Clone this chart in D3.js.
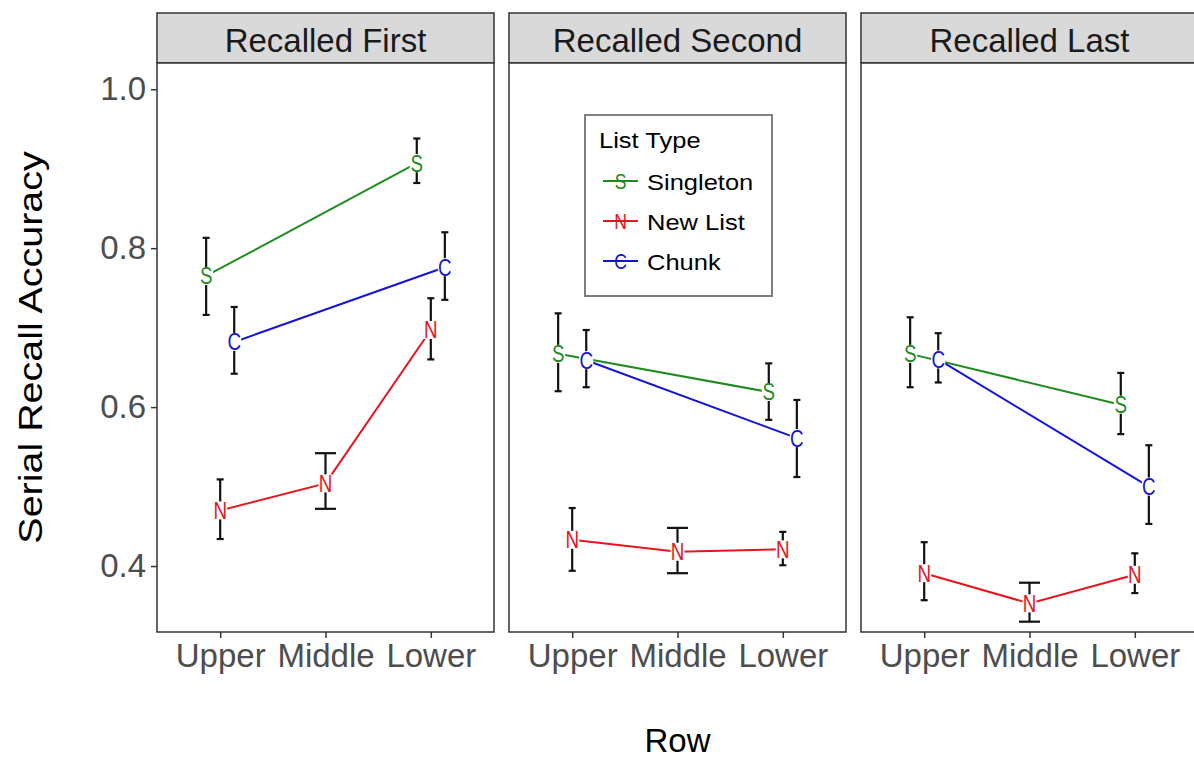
<!DOCTYPE html>
<html>
<head>
<meta charset="utf-8">
<script src="https://cdn.jsdelivr.net/npm/d3@7"></script>
<style>
  html, body { margin: 0; padding: 0; background: #fff; }
  svg { display: block; font-family: "Liberation Sans", Arial, sans-serif; }
</style>
</head>
<body>
<svg id="chart" width="1194" height="760"></svg>
<script>
// ---------- data ----------
const facets = ["Recalled First", "Recalled Second", "Recalled Last"];
const rows = ["Upper", "Middle", "Lower"];
const seriesNames = ["Singleton", "New List", "Chunk"];
const seriesLetters = ["S", "N", "C"];
const seriesColors = ["#1f8c1f", "#e8141c", "#1414d8"];
const yTicks = [0.4, 0.6, 0.8, 1.0];

// means per facet (rows: Upper, Middle, Lower); null = not present
const singletonMean  = [[0.765, null, 0.907], [0.667, null, 0.619], [0.667, null, 0.603]];
const singletonLower = [[0.716, null, 0.882], [0.620, null, 0.584], [0.625, null, 0.566]];
const singletonUpper = [[0.813, null, 0.938], [0.718, null, 0.655], [0.713, null, 0.643]];

const newListMean  = [[0.470, 0.504, 0.697], [0.433, 0.418, 0.421], [0.391, 0.353, 0.389]];
const newListLower = [[0.434, 0.472, 0.660], [0.394, 0.391, 0.401], [0.357, 0.330, 0.366]];
const newListUpper = [[0.509, 0.542, 0.737], [0.473, 0.448, 0.443], [0.430, 0.379, 0.416]];

const chunkMean  = [[0.682, null, 0.776], [0.659, null, 0.561], [0.660, null, 0.500]];
const chunkLower = [[0.642, null, 0.735], [0.625, null, 0.512], [0.631, null, 0.453]];
const chunkUpper = [[0.726, null, 0.820], [0.697, null, 0.609], [0.693, null, 0.552]];

const means = [singletonMean, newListMean, chunkMean];
const lowers = [singletonLower, newListLower, chunkLower];
const uppers = [singletonUpper, newListUpper, chunkUpper];

// ---------- layout ----------
const svg = d3.select("#chart");
const plotLeft = 157, panelW = 337, gap = 15;
const stripTop = 13, stripH = 50;
const panelTop = stripTop + stripH, panelBottom = 632;
const fontFam = '"Liberation Sans", Arial, sans-serif';

const facetX = d3.scaleBand().domain(facets)
  .range([plotLeft, plotLeft + 3 * panelW + 2 * gap])
  .paddingInner(gap / (panelW + gap)).paddingOuter(0);

const y = d3.scaleLinear().domain([0.317, 1.033]).range([panelBottom, panelTop]);
const x = d3.scalePoint().domain(rows).range([0, panelW]).padding(0.6);
const step = x.step();
const dodgeW = 0.4, ebW = 0.2;

// build records
const records = [];
facets.forEach((f, fi) => {
  rows.forEach((r, ri) => {
    const present = seriesNames.map((s, si) => si).filter(si => means[si][fi][ri] !== null);
    const n = present.length;
    present.forEach((si, k) => {
      const off = (-dodgeW / 2 + dodgeW / n * (k + 0.5)) * step;
      records.push({
        facet: f, fi, row: r, ri, si, n,
        px: facetX(f) + x(r) + off,
        mean: means[si][fi][ri], lo: lowers[si][fi][ri], hi: uppers[si][fi][ri],
        capW: ebW / n * step
      });
    });
  });
});

// ---------- panels ----------
facets.forEach((f, fi) => {
  const x0 = facetX(f);
  const g = svg.append("g");
  // strip
  g.append("rect").attr("x", x0).attr("y", stripTop).attr("width", panelW).attr("height", stripH)
    .attr("fill", "#d9d9d9").attr("stroke", "#333").attr("stroke-width", 1.5);
  g.append("text").attr("x", x0 + panelW / 2).attr("y", stripTop + 39)
    .attr("text-anchor", "middle").attr("font-size", 33).attr("fill", "#1a1a1a").text(f);
  // panel
  g.append("rect").attr("x", x0).attr("y", panelTop).attr("width", panelW).attr("height", panelBottom - panelTop)
    .attr("fill", "#fff").attr("stroke", "#333").attr("stroke-width", 1.5);
  // x axis
  const xa = svg.append("g").attr("transform", `translate(${x0},${panelBottom})`)
    .call(d3.axisBottom(x).tickSize(6).tickPadding(5));
  xa.select(".domain").remove();
  xa.selectAll(".tick line").attr("stroke", "#333").attr("stroke-width", 1.5);
  xa.selectAll(".tick text").attr("font-size", 33).attr("fill", "#4d4d4d").attr("font-family", fontFam)
    .attr("dy", "0.74em");
});

// y axis
const ya = svg.append("g").attr("transform", `translate(${plotLeft},0)`)
  .call(d3.axisLeft(y).tickValues(yTicks).tickFormat(d3.format(".1f")).tickSize(6).tickPadding(5));
ya.select(".domain").remove();
ya.selectAll(".tick line").attr("stroke", "#333").attr("stroke-width", 1.5);
ya.selectAll(".tick text").attr("font-size", 33).attr("fill", "#4d4d4d").attr("font-family", fontFam);

// axis titles
svg.append("text").attr("x", plotLeft + (3 * panelW + 2 * gap) / 2).attr("y", 752)
  .attr("text-anchor", "middle").attr("font-size", 33).attr("fill", "#000").text("Row");
svg.append("text").attr("transform", `translate(42,${(panelTop + panelBottom) / 2}) rotate(-90) scale(1.16,1)`)
  .attr("text-anchor", "middle").attr("font-size", 34).attr("fill", "#000").text("Serial Recall Accuracy");

// ---------- lines ----------
const line = d3.line().x(d => d.px).y(d => y(d.mean));
facets.forEach((f, fi) => {
  seriesNames.forEach((s, si) => {
    const pts = records.filter(d => d.fi === fi && d.si === si).sort((a, b) => a.ri - b.ri);
    svg.append("path").datum(pts).attr("d", line).attr("fill", "none")
      .attr("stroke", seriesColors[si]).attr("stroke-width", 2);
  });
});

// ---------- error bars ----------
const eb = svg.append("g").attr("stroke", "#111").attr("stroke-width", 2.2).attr("fill", "none");
records.forEach(d => {
  eb.append("line").attr("x1", d.px).attr("x2", d.px).attr("y1", y(d.lo)).attr("y2", y(d.hi));
  eb.append("line").attr("x1", d.px - d.capW / 2).attr("x2", d.px + d.capW / 2).attr("y1", y(d.lo)).attr("y2", y(d.lo));
  eb.append("line").attr("x1", d.px - d.capW / 2).attr("x2", d.px + d.capW / 2).attr("y1", y(d.hi)).attr("y2", y(d.hi));
});

// ---------- letter points ----------
const pg = svg.append("g");
records.forEach(d => {
  pg.append("rect").attr("x", d.px - 7).attr("y", y(d.mean) - 9).attr("width", 14).attr("height", 18)
    .attr("fill", "#fff");
  pg.append("text").attr("transform", `translate(${d.px},${y(d.mean)}) scale(0.8,1)`)
    .attr("text-anchor", "middle").attr("dy", "0.36em").attr("font-size", 23.5)
    .attr("fill", seriesColors[d.si]).text(seriesLetters[d.si]);
});

// ---------- legend ----------
const lg = svg.append("g");
const lgX = 585, lgY = 115;
lg.append("rect").attr("x", lgX).attr("y", lgY).attr("width", 187).attr("height", 181)
  .attr("fill", "#fff").attr("stroke", "#7f7f7f").attr("stroke-width", 2);
lg.append("text").attr("transform", `translate(${lgX + 14},${lgY + 33}) scale(1,0.9)`)
  .attr("font-size", 25.5).attr("fill", "#000").text("List Type");
seriesNames.forEach((s, si) => {
  const cy = lgY + 66 + si * 40;
  lg.append("line").attr("x1", lgX + 18).attr("x2", lgX + 53).attr("y1", cy).attr("y2", cy)
    .attr("stroke", seriesColors[si]).attr("stroke-width", 2);
  lg.append("text").attr("transform", `translate(${lgX + 35.5},${cy}) scale(0.8,1)`)
    .attr("text-anchor", "middle").attr("dy", "0.36em").attr("font-size", 22)
    .attr("fill", seriesColors[si]).text(seriesLetters[si]);
  lg.append("text").attr("transform", `translate(${lgX + 62},${cy + 9}) scale(1,0.9)`)
    .attr("font-size", 25.5).attr("fill", "#000").text(s);
});
</script>
</body>
</html>
